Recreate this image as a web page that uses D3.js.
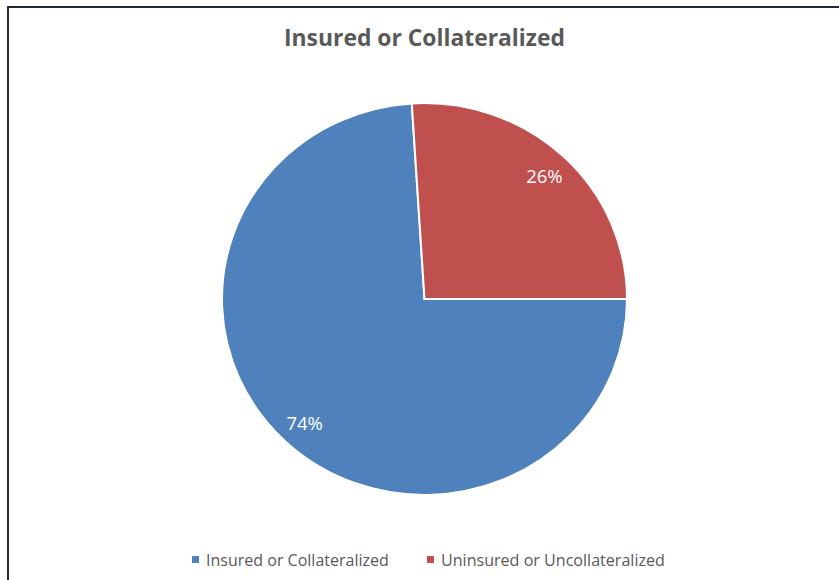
<!DOCTYPE html>
<html>
<head>
<meta charset="utf-8">
<script src="https://cdn.jsdelivr.net/npm/d3@7"></script>
<style>
  html, body { margin: 0; padding: 0; background: #fff; }
  svg { display: block; }
</style>
</head>
<body>
<svg id="chart" width="839" height="580"></svg>
<script>
// Share of deposits by collateral status
const categories = ["Insured or Collateralized", "Uninsured or Uncollateralized"];
const values = [74, 26];
const labels = ["74%", "26%"];
const colors = ["#4F81BD", "#C0504D"];
const title = "Insured or Collateralized";

const svg = d3.select("#chart");
const W = 839, H = 580;
const FONT = "'Open Sans', 'Liberation Sans', sans-serif";

// Scale a text element's font so it spans the given width
function fitWidth(sel, size, width) {
  sel.attr("font-size", size);
  const w = sel.node().getComputedTextLength();
  sel.attr("font-size", size * width / w);
}

// Chart frame (only the top and left edges fall inside the view)
svg.append("rect")
  .attr("x", 8).attr("y", 7)
  .attr("width", W + 20).attr("height", H + 20)
  .attr("fill", "#fff")
  .attr("stroke", "#1c2b3c")
  .attr("stroke-width", 2);

// Title
const t = svg.append("text")
  .attr("x", 424.5).attr("y", 46)
  .attr("text-anchor", "middle")
  .attr("font-family", FONT)
  .attr("font-weight", "bold")
  .attr("fill", "#595959")
  .text(title);
fitWidth(t, 22, 281);

// Pie: first slice starts at 3 o'clock, clockwise
const cx = 424.5, cy = 299, R = 196, sx = 202.5 / 196;
const pie = d3.pie().sort(null)
  .startAngle(Math.PI / 2).endAngle(Math.PI / 2 + 2 * Math.PI)
  .value(d => d);
const arc = d3.arc().innerRadius(0).outerRadius(R);
const labelArc = d3.arc().innerRadius(R * 0.865).outerRadius(R * 0.865);
const arcs = pie(values);

const g = svg.append("g").attr("transform", `translate(${cx},${cy}) scale(${sx},1)`);
g.selectAll("path.slice")
  .data(arcs)
  .join("path")
  .attr("class", "slice")
  .attr("d", arc)
  .attr("fill", (d, i) => colors[i])
  .attr("stroke", "#fff")
  .attr("stroke-width", 2)
  .attr("vector-effect", "non-scaling-stroke");

svg.append("g").attr("transform", `translate(${cx},${cy})`)
  .selectAll("text")
  .data(arcs)
  .join("text")
  .attr("x", d => labelArc.centroid(d)[0] * sx)
  .attr("y", d => labelArc.centroid(d)[1])
  .attr("text-anchor", "middle")
  .attr("dominant-baseline", "central")
  .attr("font-family", FONT)
  .attr("font-size", 18.5)
  .attr("fill", "#fff")
  .text((d, i) => labels[i]);

// Legend
const legendX = [192, 427];
const legendW = [183, 224];
const lg = svg.append("g");
categories.forEach((c, i) => {
  lg.append("rect")
    .attr("x", legendX[i]).attr("y", 556)
    .attr("width", 7).attr("height", 7)
    .attr("fill", colors[i]);
  const lt = lg.append("text")
    .attr("x", legendX[i] + 14).attr("y", 565.5)
    .attr("font-family", FONT)
    .attr("fill", "#595959")
    .text(c);
  fitWidth(lt, 15, legendW[i]);
});
</script>
</body>
</html>
